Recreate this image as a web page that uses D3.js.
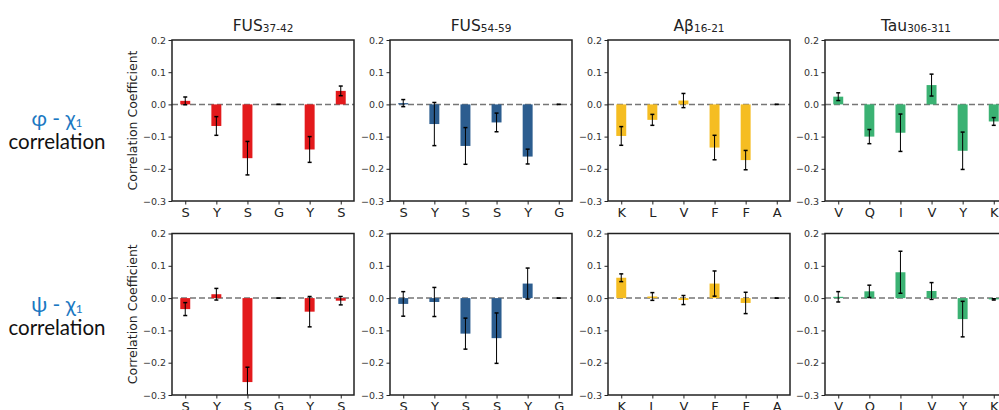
<!DOCTYPE html>
<html><head><meta charset="utf-8">
<script src="https://cdn.jsdelivr.net/npm/d3@7"></script>
<style>body{margin:0;background:#fff}svg{display:block}</style>
</head><body>
<svg id="c" width="999" height="410"></svg>
<script>
// ---- data ----
const titles = ["FUS", "FUS", "Aβ", "Tau"];
const titleSubs = ["37-42", "54-59", "16-21", "306-311"];
const residues = [
  ["S","Y","S","G","Y","S"],
  ["S","Y","S","S","Y","G"],
  ["K","L","V","F","F","A"],
  ["V","Q","I","V","Y","K"]
];
const colors = ["#e31a1c", "#2c5d8f", "#f5bd22", "#3bb273"];
const phiValues = [
  [0.011, -0.067, -0.167, 0.0, -0.140, 0.042],
  [0.004, -0.061, -0.129, -0.056, -0.162, 0.0],
  [-0.098, -0.048, 0.012, -0.134, -0.173, 0.0],
  [0.024, -0.100, -0.088, 0.060, -0.144, -0.053]
];
const phiErrors = [
  [0.012, 0.029, 0.052, 0.0, 0.040, 0.015],
  [0.011, 0.067, 0.057, 0.029, 0.023, 0.0],
  [0.029, 0.017, 0.022, 0.038, 0.030, 0.0],
  [0.012, 0.022, 0.058, 0.034, 0.058, 0.012]
];
const psiValues = [
  [-0.034, 0.012, -0.260, 0.0, -0.042, -0.008],
  [-0.018, -0.012, -0.110, -0.124, 0.045, 0.0],
  [0.063, 0.005, -0.006, 0.045, -0.015, 0.0],
  [0.004, 0.021, 0.080, 0.022, -0.065, -0.004]
];
const psiErrors = [
  [0.020, 0.018, 0.046, 0.0, 0.047, 0.013],
  [0.038, 0.045, 0.048, 0.078, 0.048, 0.0],
  [0.012, 0.012, 0.014, 0.039, 0.033, 0.0],
  [0.016, 0.019, 0.065, 0.026, 0.055, 0.002]
];
const yTicks = [0.2, 0.1, 0.0, -0.1, -0.2, -0.3];
const rowLabels = [["φ - χ", "1", "correlation"], ["ψ - χ", "1", "correlation"]];

// ---- layout ----
const FONT = "'DejaVu Sans', Verdana, sans-serif";
const svg = d3.select("#c");
const panelLefts = [172, 390, 608, 825];
const panelW = 182;
const rows = [{top: 40, bottom: 201, values: phiValues, errors: phiErrors},
              {top: 233.5, bottom: 395, values: psiValues, errors: psiErrors}];
const barW = 0.32;
const x = d3.scaleLinear().domain([-0.426, 5.426]);
const fmt = d => d3.format(".1f")(d).replace("-", "\u2212");

rows.forEach((row, ri) => {
  const y = d3.scaleLinear().domain([-0.3, 0.2]).range([row.bottom, row.top]);
  panelLefts.forEach((left, pi) => {
    x.range([left, left + panelW]);
    const g = svg.append("g");
    const clipId = `clip${ri}_${pi}`;
    g.append("clipPath").attr("id", clipId).append("rect")
      .attr("x", left).attr("y", row.top).attr("width", panelW).attr("height", row.bottom - row.top);
    const inner = g.append("g").attr("clip-path", `url(#${clipId})`);
    const vals = row.values[pi], errs = row.errors[pi];
    // zero line
    inner.append("line").attr("x1", left).attr("x2", left + panelW)
      .attr("y1", y(0)).attr("y2", y(0))
      .attr("stroke", "#767676").attr("stroke-width", 1.5).attr("stroke-dasharray", "6,3");
    // bars
    inner.selectAll("rect.bar").data(vals).join("rect").attr("class", "bar")
      .attr("x", (d, i) => x(i - barW / 2))
      .attr("width", x(barW) - x(0))
      .attr("y", d => y(Math.max(0, d)))
      .attr("height", d => Math.abs(y(d) - y(0)))
      .attr("fill", colors[pi]);
    // error bars
    const eb = inner.selectAll("g.eb").data(vals.map((v, i) => ({v, e: errs[i], i}))).join("g");
    eb.append("line").attr("x1", d => x(d.i)).attr("x2", d => x(d.i))
      .attr("y1", d => y(d.v + d.e)).attr("y2", d => y(d.v - d.e))
      .attr("stroke", "#000").attr("stroke-width", 1);
    [1, -1].forEach(s => {
      eb.append("line").attr("x1", d => x(d.i) - 2).attr("x2", d => x(d.i) + 2)
        .attr("y1", d => y(d.v + s * d.e)).attr("y2", d => y(d.v + s * d.e))
        .attr("stroke", "#000").attr("stroke-width", 1.5);
    });
    // frame
    g.append("rect").attr("x", left).attr("y", row.top).attr("width", panelW)
      .attr("height", row.bottom - row.top).attr("fill", "none")
      .attr("stroke", "#222").attr("stroke-width", 1.5);
    // y axis
    const ya = g.append("g").attr("transform", `translate(${left},0)`)
      .call(d3.axisLeft(y).tickValues(yTicks).tickFormat(fmt).tickSize(3.5).tickPadding(2.5));
    ya.select(".domain").remove();
    ya.selectAll("line").attr("stroke", "#222");
    ya.selectAll("text").attr("font-family", FONT).attr("font-size", 9.5).attr("fill", "#333");
    // x axis
    const xa = g.append("g").attr("transform", `translate(0,${row.bottom})`)
      .call(d3.axisBottom(x).tickValues(d3.range(6)).tickFormat(i => residues[pi][i]).tickSize(3.5).tickPadding(3));
    xa.select(".domain").remove();
    xa.selectAll("line").attr("stroke", "#222");
    xa.selectAll("text").attr("font-family", FONT).attr("font-size", 13).attr("fill", "#222");
    // title (top row only)
    if (ri === 0) {
      const t = svg.append("text").attr("x", left + panelW / 2).attr("y", 31)
        .attr("text-anchor", "middle").attr("font-family", FONT).attr("fill", "#222");
      t.append("tspan").attr("font-size", 15.5).text(titles[pi]);
      t.append("tspan").attr("font-size", 10.5).attr("dy", 1).text(titleSubs[pi]);
    }
    // y label
    if (pi === 0) {
      svg.append("text").attr("transform", `translate(137,${(row.top + row.bottom) / 2}) rotate(-90)`)
        .attr("text-anchor", "middle").attr("font-family", FONT).attr("font-size", 12.5)
        .attr("fill", "#222").text("Correlation Coefficient");
    }
  });
  // row label
  const lbl = rowLabels[ri];
  const cy = ri === 0 ? 126 : 312;
  const t1 = svg.append("text").attr("x", 57).attr("y", cy).attr("text-anchor", "middle")
    .attr("font-family", "Lato").attr("font-size", 21).attr("fill", "#1a78c2");
  t1.append("tspan").text(lbl[0]);
  t1.append("tspan").attr("font-size", 12).attr("dy", 1).text(lbl[1]);
  svg.append("text").attr("x", 57).attr("y", cy + 23).attr("text-anchor", "middle")
    .attr("font-family", "Lato").attr("font-size", 20.5).attr("fill", "#111").text(lbl[2]);
});
</script>
</body></html>
